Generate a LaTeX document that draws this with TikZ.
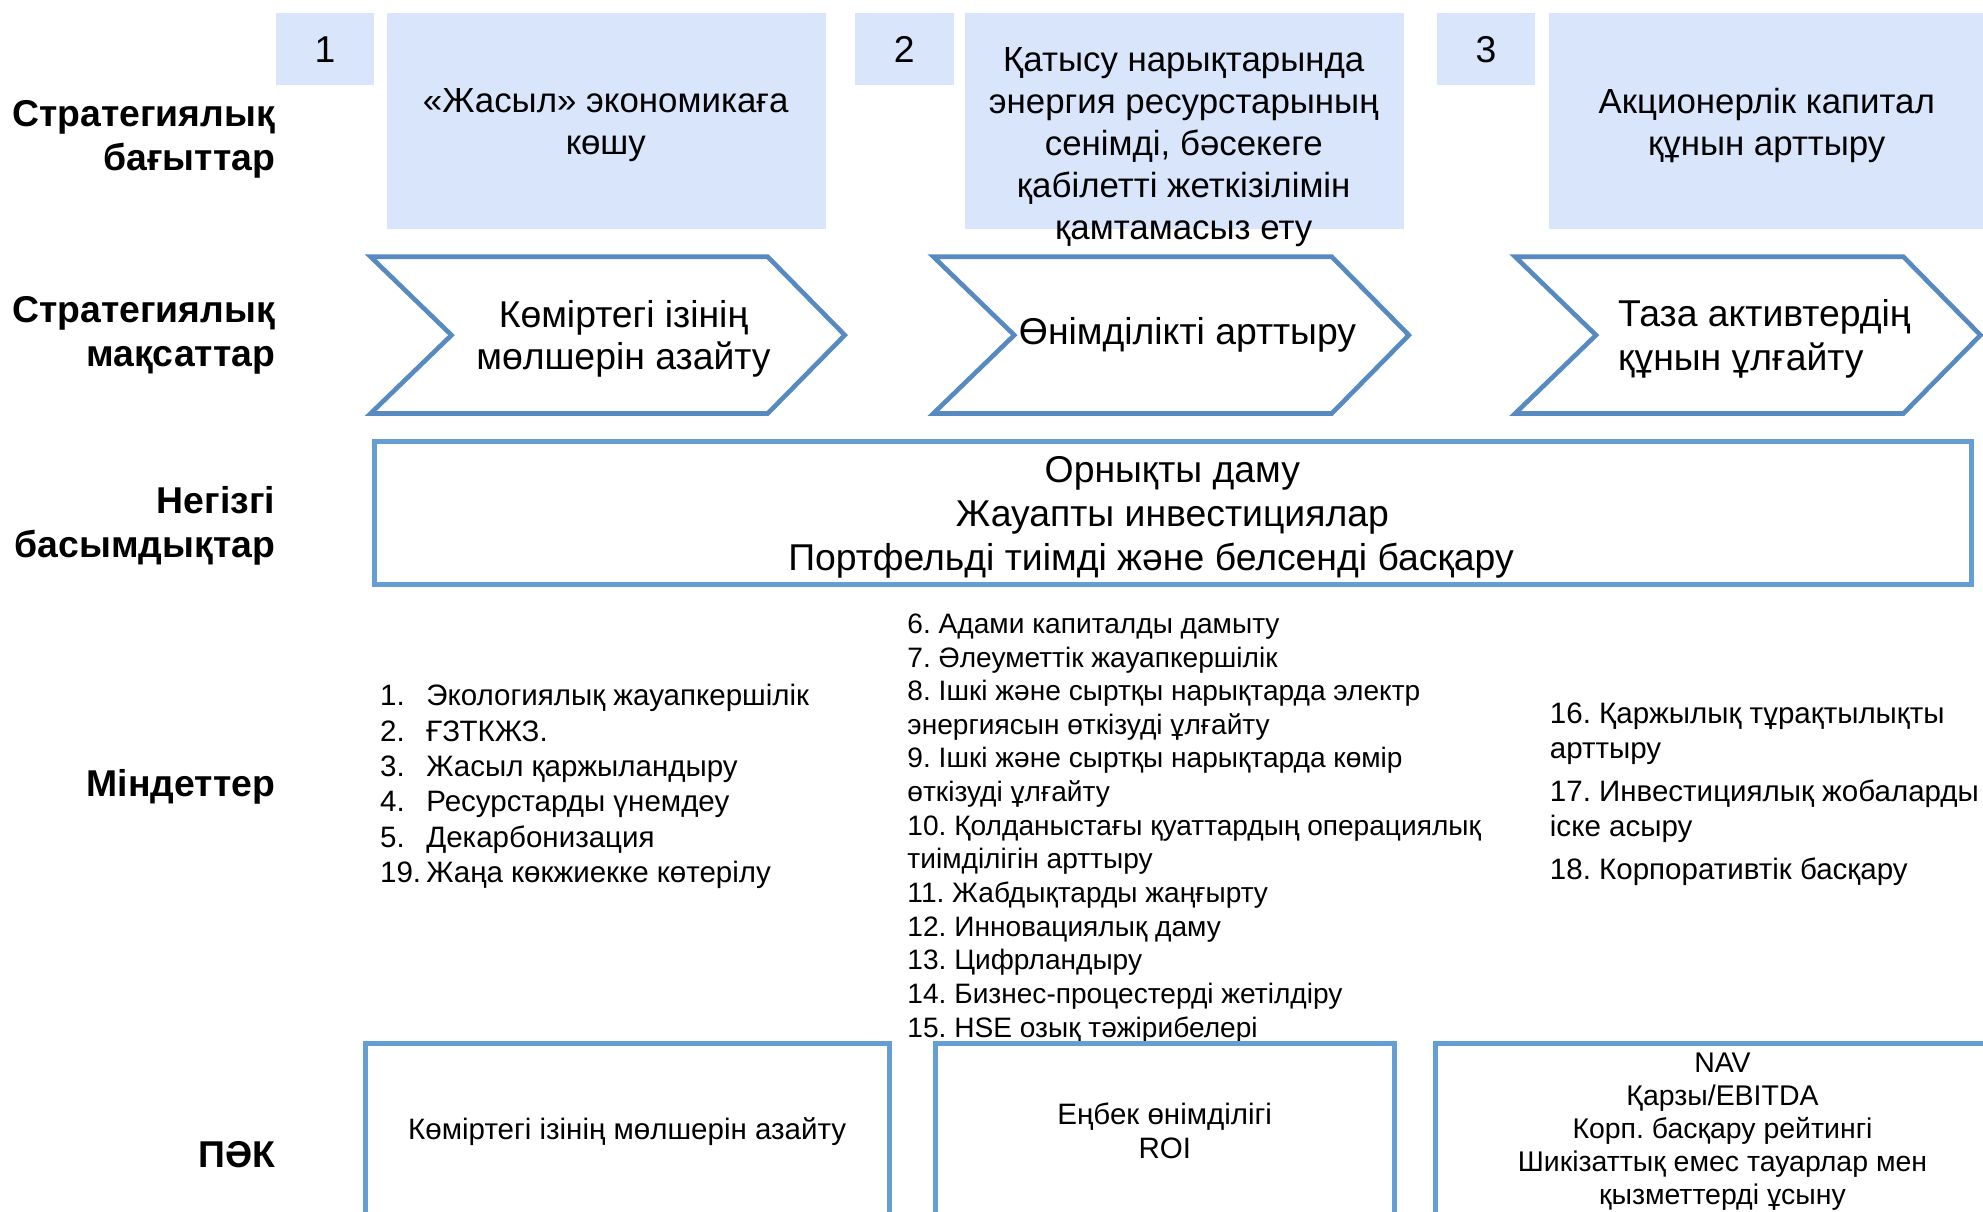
\documentclass[tikz,border=0pt]{standalone}
\usepackage{fontspec}
\setmainfont{Liberation Sans}
\usepackage{color}
\definecolor{paleblue}{RGB}{216,229,251}
\definecolor{edgeblue}{RGB}{86,138,192}
\definecolor{boxblue}{RGB}{100,158,213}
\frenchspacing
\newcommand\itm[1]{\makebox[13pt][l]{#1}}
\tikzset{
  rowlabel/.style={anchor=east, align=right, inner sep=0pt, font=\bfseries\fontsize{10.5}{12.4}\selectfont},
  bigtext/.style={align=center, inner sep=0pt, font=\fontsize{10.5}{11.8}\selectfont},
  dirtext/.style={align=center, inner sep=0pt, font=\fontsize{9.8}{11.8}\selectfont},
  listtext/.style={anchor=west, align=left, inner sep=0pt},
  kpitext/.style={align=center, inner sep=0pt, font=\fontsize{8.3}{9.4}\selectfont},
  chevline/.style={draw=edgeblue, line width=1.3pt, line join=miter},
  boxline/.style={draw=boxblue, line width=1.4pt}
}

\begin{document}
\begin{tikzpicture}[x=0.0125cm,y=-0.0125cm]
\useasboundingbox (0,0) rectangle (1568,958);
\clip (0,0) rectangle (1568,958);
% row labels
\node[rowlabel] (lbdir) at (218,110) {Стратегиялық\\бағыттар};
\node[rowlabel] (lbgoal) at (218,265) {Стратегиялық\\мақсаттар};
\node[rowlabel] (lbprio) at (218,416) {Негізгі\\басымдықтар};
\node[rowlabel] (lbtask) at (218,622) {Міндеттер};
\node[rowlabel] (lbkpi) at (218,913) {ПӘК};
% directions
\foreach \n/\a/\c in {1/218/306, 2/676/763, 3/1136/1225}{
  \fill[paleblue] (\a,10) rectangle ++(78,57);
  \fill[paleblue] (\c,10) rectangle ++(347,171);
  \node[bigtext] (num\n) at (\a+39,39) {\n};
}
\node[dirtext] (dir1) at (479,99) {«Жасыл» экономикаға\\көшу};
\node[dirtext] (dir2) at (936,116) {Қатысу нарықтарында\\энергия ресурстарының\\сенімді, бәсекеге\\қабілетті жеткізілімін\\қамтамасыз ету};
\node[dirtext] (dir3) at (1397,99) {Акционерлік капитал\\құнын арттыру};
% goals
\def\ctop{203}
\def\cbot{327}
\def\cmid{265}
\foreach \l/\r in {293/668, 738/1114, 1198/1566}
  \draw[chevline] (\l,\ctop) -- (\r-61,\ctop) -- (\r,\cmid) -- (\r-61,\cbot) -- (\l,\cbot) -- (\l+64,\cmid) -- cycle;
\node[bigtext] (goal1) at (493,268) {Көміртегі ізінің\\мөлшерін азайту};
\node[bigtext] (goal2) at (939,265) {Өнімділікті арттыру};
\node[bigtext, anchor=west, align=left, font=\fontsize{10.5}{12.6}\selectfont] (goal3) at (1279,268) {Таза активтердің\\құнын ұлғайту};
% priorities
\draw[boxline] (296,349) rectangle (1559,462);
\node[bigtext, font=\fontsize{10.5}{12.45}\selectfont] (prio) at (927,409) {Орнықты даму\\Жауапты инвестициялар\\Портфельді тиімді және белсенді басқару\hspace*{12pt}};
% tasks
\node[listtext, font=\fontsize{8.3}{9.96}\selectfont] (tasks1) at (300,622) {\itm{1.}Экологиялық жауапкершілік\\
\itm{2.}ҒЗТКЖЗ.\\
\itm{3.}Жасыл қаржыландыру\\
\itm{4.}Ресурстарды үнемдеу\\
\itm{5.}Декарбонизация\\
\itm{19.}Жаңа көкжиекке көтерілу};
\node[listtext, font=\fontsize{7.9}{9.46}\selectfont] (tasks2) at (717,655) {6. Адами капиталды дамыту\\
7. Әлеуметтік жауапкершілік\\
8. Ішкі және сыртқы нарықтарда электр\\
энергиясын өткізуді ұлғайту\\
9. Ішкі және сыртқы нарықтарда көмір\\
өткізуді ұлғайту\\
10. Қолданыстағы қуаттардың операциялық\\
тиімділігін арттыру\\
11. Жабдықтарды жаңғырту\\
12. Инновациялық даму\\
13. Цифрландыру\\
14. Бизнес-процестерді жетілдіру\\
15. HSE озық тәжірибелері};
\node[listtext, font=\fontsize{8.3}{9.96}\selectfont] (tasks3) at (1225,628) {16. Қаржылық тұрақтылықты\\
арттыру\\[2.1pt]
17. Инвестициялық жобаларды\\
іске асыру\\[2.1pt]
18. Корпоративтік басқару};
% kpi
\foreach \l/\r in {289/703, 740/1103, 1135/1590}
  \draw[boxline] (\l,975) -- (\l,825) -- (\r,825) -- (\r,975);
\node[kpitext] (kpi1) at (496,895) {Көміртегі ізінің мөлшерін азайту};
\node[kpitext] (kpi2) at (921,894) {Еңбек өнімділігі\\ROI};
\node[kpitext, font=\fontsize{8}{9.3}\selectfont] (kpi3) at (1362,895) {NAV\\Қарзы/EBITDA\\Корп. басқару рейтингі\\Шикізаттық емес тауарлар мен\\қызметтерді ұсыну};
\end{tikzpicture}
\end{document}
